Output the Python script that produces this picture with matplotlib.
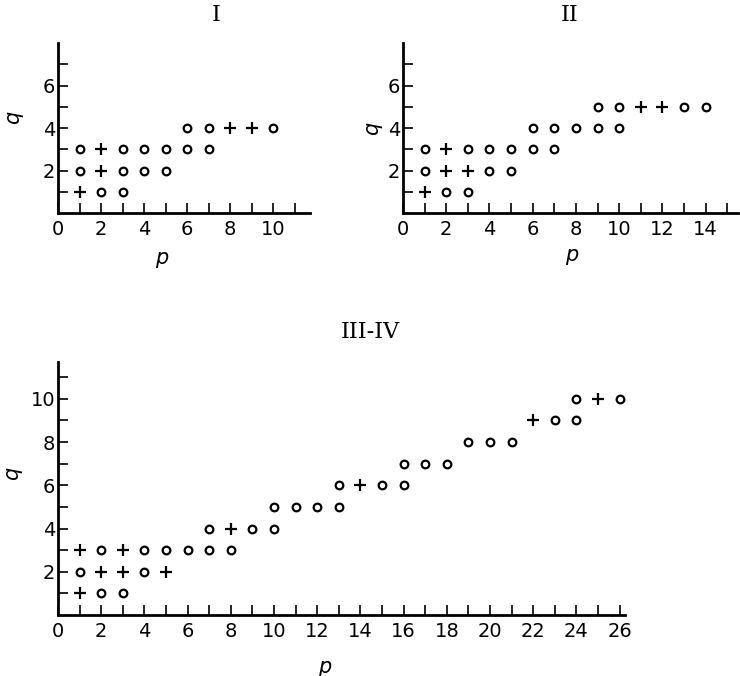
import matplotlib
matplotlib.use("Agg")
import matplotlib.pyplot as plt

# Panel I
i_circ_p = [1, 1, 2, 3, 3, 3, 4, 4, 5, 5, 6, 6, 7, 7, 10]
i_circ_q = [3, 2, 1, 1, 2, 3, 2, 3, 2, 3, 3, 4, 3, 4, 4]
i_plus_p = [1, 2, 2, 8, 9]
i_plus_q = [1, 2, 3, 4, 4]

# Panel II
ii_circ_p = [1, 1, 2, 3, 3, 4, 4, 5, 5, 6, 6, 7, 7, 8, 9, 9, 10, 10, 13, 14]
ii_circ_q = [3, 2, 1, 1, 3, 3, 2, 3, 2, 3, 4, 3, 4, 4, 4, 5, 4, 5, 5, 5]
ii_plus_p = [1, 2, 2, 3, 11, 12]
ii_plus_q = [1, 2, 3, 2, 5, 5]

# Panel III-IV
iii_circ_p = [1, 2, 2, 3, 4, 4, 5, 6, 7, 7, 8, 9, 10, 10, 11, 12, 13, 13,
              15, 16, 16, 17, 18, 19, 20, 21, 23, 24, 24, 26]
iii_circ_q = [2, 1, 3, 1, 2, 3, 3, 3, 3, 4, 3, 4, 4, 5, 5, 5, 5, 6,
              6, 6, 7, 7, 7, 8, 8, 8, 9, 9, 10, 10]
iii_plus_p = [1, 1, 2, 3, 3, 5, 8, 14, 22, 25]
iii_plus_q = [1, 3, 2, 2, 3, 2, 4, 6, 9, 10]

W, H = 740.0, 676.0

fig = plt.figure(figsize=(7.4, 6.76), dpi=100)


def make_axes(left, bottom, width, height, xmax, ymax, xt_max, yt_max,
              p_pos, q_pos):
  ax = fig.add_axes([left / W, 1 - bottom / H, width / W, height / H])
  ax.set_xlim(0, xmax)
  ax.set_ylim(0, ymax)
  for s in ["top", "right"]:
    ax.spines[s].set_visible(False)
  for s in ["left", "bottom"]:
    ax.spines[s].set_linewidth(2.0)
  xt = list(range(0, xt_max + 1))
  yt = list(range(1, yt_max + 1))
  ax.set_xticks(xt)
  ax.set_xticklabels([str(v) if v % 2 == 0 else "" for v in xt])
  ax.set_yticks(yt)
  ax.set_yticklabels([str(v) if v % 2 == 0 else "" for v in yt])
  ax.tick_params(direction="in", length=7, width=1.2, labelsize=14, pad=5)
  ax.tick_params(axis="y", pad=2)
  ax.set_xlabel("p", fontsize=15, style="italic")
  ax.set_ylabel("q", fontsize=15, style="italic")
  ax.xaxis.set_label_coords(p_pos[0], p_pos[1])
  ax.yaxis.set_label_coords(q_pos[0], q_pos[1])
  ax.xaxis.label.set_va("center")
  ax.yaxis.label.set_va("center")
  return ax


def draw(ax, cp, cq, pp, pq):
  ax.plot(cp, cq, "o", markersize=5.5, markerfacecolor="none",
          markeredgecolor="k", markeredgewidth=1.6, clip_on=False)
  ax.plot(pp, pq, "+", markersize=9, color="k", markeredgewidth=1.6,
          clip_on=False)


ax1 = make_axes(58, 213, 252, 170, 11.7, 8.0, 11, 7,
                (0.41, -0.265), (-0.18, 0.56))
draw(ax1, i_circ_p, i_circ_q, i_plus_p, i_plus_q)

ax2 = make_axes(403, 213, 335, 170, 15.5, 8.0, 15, 7,
                (0.504, -0.247), (-0.093, 0.5))
draw(ax2, ii_circ_p, ii_circ_q, ii_plus_p, ii_plus_q)

ax3 = make_axes(58, 615, 567, 253, 26.25, 11.7, 26, 11,
                (0.47, -0.205), (-0.081, 0.56))
draw(ax3, iii_circ_p, iii_circ_q, iii_plus_p, iii_plus_q)

fig.text(216 / W, 1 - 15 / H, "I", ha="center", va="center",
         fontsize=16, family="DejaVu Serif")
fig.text(570 / W, 1 - 15 / H, "II", ha="center", va="center",
         fontsize=16, family="DejaVu Serif")
fig.text(370 / W, 1 - 332 / H, "III-IV", ha="center", va="center",
         fontsize=16, family="DejaVu Serif")

fig.savefig("out.png", dpi=100)
